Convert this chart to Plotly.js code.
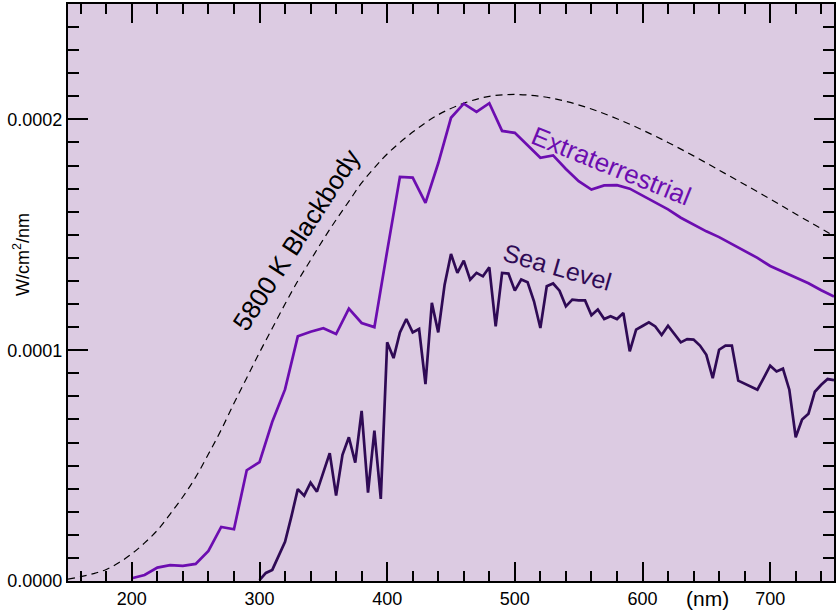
<!DOCTYPE html>
<html>
<head>
<meta charset="utf-8">
<script src="https://cdn.plot.ly/plotly-3.0.1.min.js"></script>
<style>html,body{margin:0;padding:0;background:#fff;}#chart{width:838px;height:613px;}</style>
</head>
<body>
<div id="chart"></div>
<script>
// Values in units of 1e-4 W/cm^2/nm
const extraX = [200,210,220,230,240,250,260,270,280,290,300,310,320,330,340,350,360,370,380,390,400,410,420,430,440,450,460,470,480,490,500,510,520,530,540,550,560,570,580,590,600,610,620,630,640,650,660,670,680,690,700,710,720,730,740,750];
const extraY = [0.012,0.026,0.058,0.069,0.066,0.074,0.13,0.234,0.224,0.48,0.515,0.69,0.83,1.06,1.08,1.095,1.07,1.18,1.118,1.10,1.43,1.751,1.748,1.638,1.81,2.007,2.068,2.033,2.07,1.95,1.942,1.89,1.834,1.844,1.785,1.732,1.696,1.714,1.715,1.70,1.67,1.64,1.61,1.574,1.545,1.515,1.49,1.46,1.43,1.40,1.365,1.34,1.313,1.29,1.26,1.233];

const seaX = [300,305,310,315,320,325,330,335,340,345,350,355,360,365,370,375,380,385,390,395,400,405,410,415,420,425,430,435,440,445,450,455,460,465,470,475,480,485,490,495,500,505,510,515,520,525,530,535,540,545,550,555,560,565,570,575,580,585,590,595,600,605,610,615,620,625,630,635,640,645,650,655,660,665,670,675,680,685,690,695,700,705,710,715,720,725,730,735,740,745,750];
const seaY = [0.004,0.035,0.048,0.11,0.17,0.28,0.398,0.37,0.426,0.387,0.47,0.554,0.37,0.547,0.623,0.513,0.737,0.383,0.652,0.356,1.034,0.966,1.077,1.135,1.077,1.092,0.853,1.205,1.077,1.284,1.417,1.335,1.388,1.306,1.335,1.32,1.359,1.103,1.335,1.332,1.258,1.306,1.294,1.212,1.096,1.277,1.289,1.258,1.19,1.219,1.216,1.216,1.151,1.176,1.135,1.147,1.135,1.161,0.995,1.089,1.105,1.121,1.103,1.066,1.106,1.07,1.034,1.048,1.046,1.02,0.98,0.879,1.002,1.02,1.02,0.868,0.855,0.842,0.829,0.88,0.933,0.908,0.92,0.829,0.623,0.70,0.725,0.82,0.85,0.875,0.87];

const bbX = [150,160,170,180,190,200,210,220,230,240,250,260,270,280,290,300,310,320,330,340,350,360,370,380,390,400,420,440,460,480,500,520,540,560,580,600,620,640,660,680,700,720,750];
const bbY = [0.008,0.019,0.032,0.05,0.08,0.118,0.165,0.22,0.29,0.365,0.45,0.55,0.655,0.77,0.88,0.99,1.095,1.2,1.3,1.39,1.48,1.565,1.645,1.725,1.79,1.85,1.945,2.02,2.07,2.10,2.108,2.1,2.078,2.045,2.003,1.954,1.90,1.842,1.78,1.718,1.655,1.59,1.495];

const xTickVals = [200,300,400,500,600,700];
const yTickVals = [0,0.0001,0.0002];
const yTickText = ['0.0000','0.0001','0.0002'];

const labels = {bb:'5800 K Blackbody', extra:'Extraterrestrial', sea:'Sea Level', yTitle:'W/cm<sup>2</sup>/nm', xTitle:'(nm)'};

const scale = v => v * 1e-4;
const FONT = 'Liberation Sans, Arial, Helvetica, sans-serif';
const EXTRA_COLOR = '#6c0db0';
const SEA_COLOR = '#2f0a55';

const traces = [
  {x: bbX, y: bbY.map(scale), mode:'lines', line:{color:'#000', width:1.2, dash:'7px,5px', shape:'spline', smoothing:1}, hoverinfo:'skip'},
  {x: extraX, y: extraY.map(scale), mode:'lines', line:{color:EXTRA_COLOR, width:2.7}, hoverinfo:'skip'},
  {x: seaX, y: seaY.map(scale), mode:'lines', line:{color:SEA_COLOR, width:2.7}, hoverinfo:'skip'}
];

const axisCommon = {
  showline:true, linewidth:2, linecolor:'#000', mirror:'allticks',
  ticks:'inside', tickwidth:2, tickcolor:'#000',
  showgrid:false, zeroline:false,
  tickfont:{family:FONT, size:18, color:'#000'}
};

const layout = {
  width:838, height:613,
  margin:{l:68, r:4, t:4, b:32, pad:0},
  paper_bgcolor:'#ffffff',
  plot_bgcolor:'#dccbe2',
  showlegend:false,
  font:{family:FONT, color:'#000'},
  xaxis: Object.assign({}, axisCommon, {
    range:[150,750], tickmode:'array', tickvals:xTickVals, ticklen:19,
    minor:{dtick:20, tick0:0, ticks:'inside', ticklen:10, tickwidth:2, tickcolor:'#000', showgrid:false}
  }),
  yaxis: Object.assign({}, axisCommon, {
    range:[0,0.00025], tickmode:'array', tickvals:yTickVals, ticktext:yTickText, ticklen:20,
    minor:{dtick:0.00001, tick0:0, ticks:'inside', ticklen:11, tickwidth:2, tickcolor:'#000', showgrid:false}
  }),
  annotations:[
    {text:labels.bb, x:329, y:1.476e-4, xref:'x', yref:'y', showarrow:false, textangle:-57, font:{family:FONT, size:26, color:'#000'}},
    {text:labels.extra, x:575.6, y:1.80e-4, xref:'x', yref:'y', showarrow:false, textangle:22, font:{family:FONT, size:26, color:EXTRA_COLOR}},
    {text:labels.sea, x:533.4, y:1.362e-4, xref:'x', yref:'y', showarrow:false, textangle:16, font:{family:FONT, size:25, color:SEA_COLOR}},
    {text:labels.yTitle, x:-0.06, y:0.565, xref:'paper', yref:'paper', showarrow:false, textangle:-90, xanchor:'center', yanchor:'middle', font:{family:FONT, size:18, color:'#000'}},
    {text:labels.xTitle, x:0.8355, y:-0.03, xref:'paper', yref:'paper', showarrow:false, xanchor:'center', yanchor:'middle', font:{family:FONT, size:21, color:'#000'}}
  ]
};

Plotly.newPlot('chart', traces, layout, {staticPlot:true, displayModeBar:false});
</script>
</body>
</html>
